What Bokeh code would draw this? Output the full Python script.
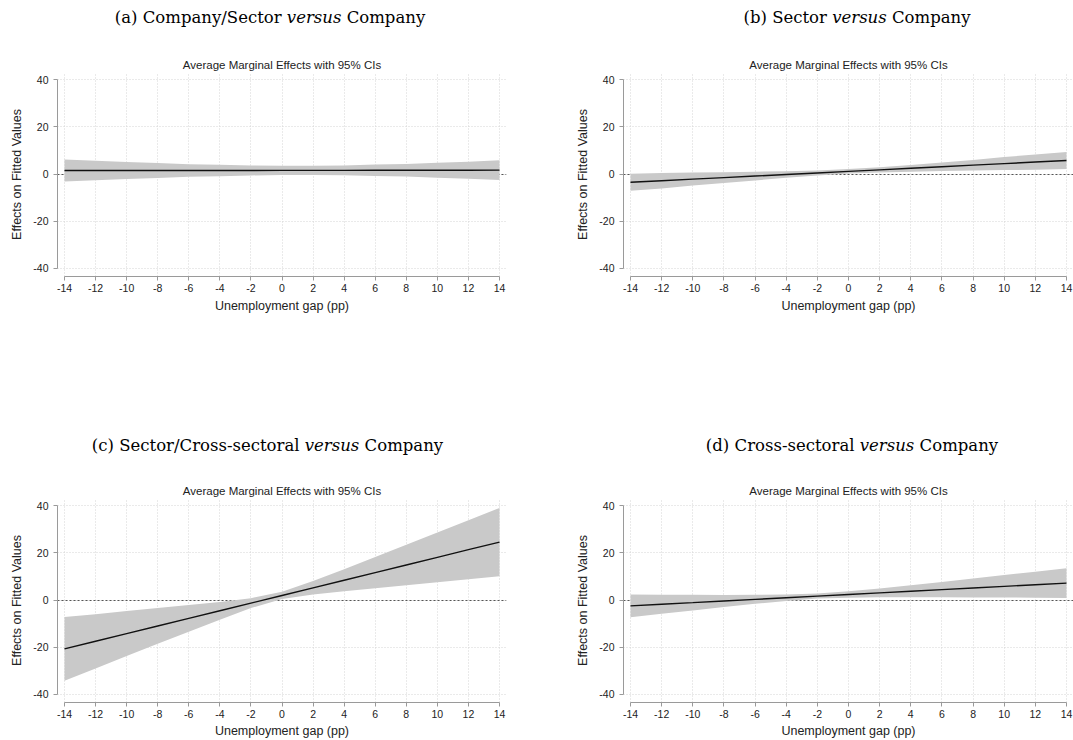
from bokeh.plotting import figure
from bokeh.models import Div, Spacer, FixedTicker, PrintfTickFormatter
from bokeh.layouts import column, row
from bokeh.embed import file_html
from bokeh.resources import INLINE

# ---------------- data ----------------
x_vals = [-14, -12, -10, -8, -6, -4, -2, 0, 2, 4, 6, 8, 10, 12, 14]
y_ticks = [-40, -20, 0, 20, 40]

# (a) Company/Sector versus Company
a_mid = [1.5, 1.5, 1.5, 1.5, 1.5, 1.5, 1.5, 1.55, 1.55, 1.55, 1.6, 1.6, 1.6, 1.6, 1.65]
a_hi = [6.2, 5.6, 5.1, 4.7, 4.2, 3.9, 3.6, 3.5, 3.5, 3.6, 4.0, 4.3, 4.8, 5.2, 5.8]
a_lo = [-3.2, -2.6, -2.1, -1.7, -1.2, -0.9, -0.6, -0.4, -0.4, -0.5, -0.8, -1.1, -1.6, -2.0, -2.5]

# (b) Sector versus Company
b_mid = [-3.5, -2.84, -2.18, -1.52, -0.86, -0.2, 0.46, 1.12, 1.78, 2.44, 3.1, 3.76, 4.42, 5.08, 5.74]
b_hi = [0.1, 0.4, 0.6, 0.8, 1.0, 1.2, 1.5, 2.1, 2.9, 3.8, 4.9, 6.0, 7.2, 8.3, 9.4]
b_lo = [-7.1, -6.1, -4.9, -3.8, -2.7, -1.6, -0.6, 0.2, 0.7, 1.0, 1.3, 1.5, 1.7, 1.8, 2.1]

# (c) Sector/Cross-sectoral versus Company
c_mid = [-20.75, -17.51, -14.27, -11.03, -7.79, -4.55, -1.31, 1.93, 5.17, 8.41, 11.65, 14.89, 18.13, 21.37, 24.61]
c_hi = [-7.2, -6.0, -4.7, -3.4, -2.1, -0.8, 0.8, 3.5, 8.1, 13.1, 18.3, 23.5, 28.7, 33.9, 39.1]
c_lo = [-34.3, -29.1, -23.8, -18.6, -13.5, -8.4, -3.4, 0.4, 2.3, 3.7, 5.0, 6.3, 7.6, 8.8, 10.1]

# (d) Cross-sectoral versus Company
d_mid = [-2.5, -1.81, -1.12, -0.42, 0.27, 0.96, 1.65, 2.34, 3.04, 3.73, 4.42, 5.11, 5.8, 6.5, 7.19]
d_hi = [2.3, 2.2, 2.2, 2.1, 2.2, 2.3, 2.8, 3.7, 4.9, 6.3, 7.7, 9.1, 10.6, 12.0, 13.5]
d_lo = [-7.3, -5.8, -4.4, -3.0, -1.6, -0.4, 0.6, 1.0, 1.2, 1.2, 1.2, 1.1, 1.1, 1.0, 0.9]

sub_title = "Average Marginal Effects with 95% CIs"
x_label = "Unemployment gap (pp)"
y_label = "Effects on Fitted Values"

SANS = "Liberation Sans"
SERIF = "DejaVu Serif"


def panel_title(label, main1, main2, width, height, pad_top, inner_css):
    html = (
        f'<div style="font-family:\'{SERIF}\';font-size:16.5px;line-height:20px;'
        f'padding-top:{pad_top}px;text-align:center;color:#000;white-space:nowrap;{inner_css}">'
        f'{label} {main1} <i>versus</i> {main2}</div>'
    )
    return Div(text=html, width=width, height=height, margin=0)


def make_panel(mid, lo, hi, width, height, left, right, top, bottom, xlab_standoff):
    p = figure(width=width, height=height,
               x_range=(-14.45, 14.45), y_range=(-43.5, 43.1),
               output_backend="svg", toolbar_location=None,
               min_border_left=left, min_border_right=right,
               min_border_top=top, min_border_bottom=bottom)
    p.outline_line_color = None
    p.background_fill_color = "white"
    p.border_fill_color = "white"

    p.title.text = sub_title
    p.title.align = "center"
    p.title.text_font = SANS
    p.title.text_font_size = "11.5px"
    p.title.text_font_style = "normal"
    p.title.text_color = "#222222"
    p.title.standoff = 3

    fmt = PrintfTickFormatter(format="%d")
    for ax in (p.xaxis[0], p.yaxis[0]):
        ax.axis_line_color = "#9a9a9a"
        ax.major_tick_line_color = "#9a9a9a"
        ax.minor_tick_line_color = None
        ax.major_tick_in = 0
        ax.major_tick_out = 4
        ax.major_label_text_font = SANS
        ax.major_label_text_font_size = "10.5px"
        ax.major_label_text_color = "#222222"
        ax.axis_label_text_font = SANS
        ax.axis_label_text_font_size = "12.5px"
        ax.axis_label_text_font_style = "normal"
        ax.axis_label_text_color = "#222222"
        ax.formatter = fmt

    p.xaxis.ticker = FixedTicker(ticks=x_vals)
    p.yaxis.ticker = FixedTicker(ticks=y_ticks)
    p.xaxis.bounds = (min(x_vals), max(x_vals))
    p.yaxis.bounds = (min(y_ticks), max(y_ticks))
    p.xaxis.axis_label = x_label
    p.yaxis.axis_label = y_label
    p.xaxis.major_label_standoff = 3
    p.yaxis.major_label_standoff = 5
    p.xaxis.axis_label_standoff = xlab_standoff
    p.yaxis.axis_label_standoff = 6

    p.grid.grid_line_color = "#d4d4d4"
    p.grid.grid_line_dash = "1 2"
    p.grid.grid_line_width = 1

    p.hspan(y=[0], line_color="#555555", line_dash="2 2", line_width=1)
    p.varea(x=x_vals, y1=lo, y2=hi, fill_color="#c9c9c9", fill_alpha=1.0)
    p.line(x=x_vals, y=mid, line_color="#111111", line_width=1.4)
    return p


W_LEFT = 566
W_RIGHT = 507

pa = make_panel(a_mid, a_lo, a_hi, W_LEFT, 286, 57, 60, 42, 40, 4)
pb = make_panel(b_mid, b_lo, b_hi, W_RIGHT, 286, 57, 0, 42, 40, 4)
pc = make_panel(c_mid, c_lo, c_hi, W_LEFT, 282, 57, 60, 40, 37, 3)
pd = make_panel(d_mid, d_lo, d_hi, W_RIGHT, 282, 57, 0, 40, 37, 3)

ta = panel_title("(a)", "Company/Sector", "Company", W_LEFT, 30, 8, "width:540px;")
tb = panel_title("(b)", "Sector", "Company", W_RIGHT, 30, 8, "margin-left:84px;width:414px;")
tc = panel_title("(c)", "Sector/Cross-sectoral", "Company", W_LEFT, 22, 0, "width:535px;")
td = panel_title("(d)", "Cross-sectoral", "Company", W_RIGHT, 22, 0, "margin-left:74px;width:424px;")

layout = column(
    row(column(ta, pa), column(tb, pb)),
    Spacer(height=120, width=10),
    row(column(tc, pc), column(td, pd)),
)

open("out.html", "w").write(file_html(layout, INLINE))
